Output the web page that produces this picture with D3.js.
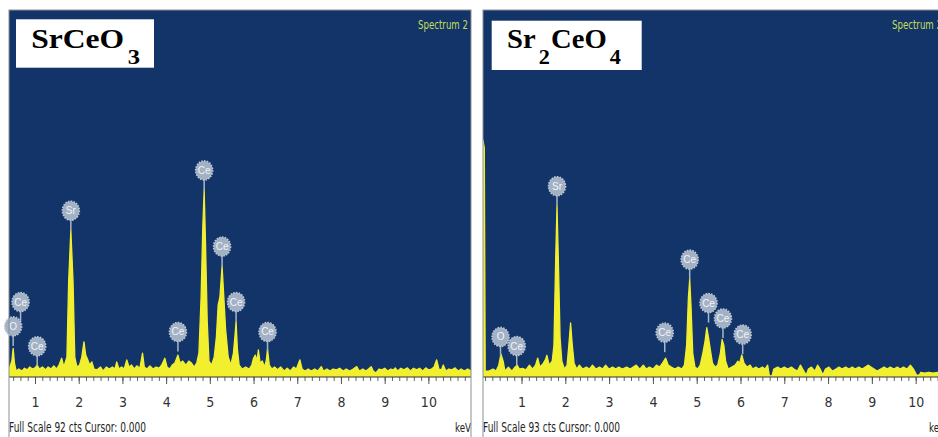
<!DOCTYPE html>
<html>
<head>
<meta charset="utf-8">
<script src="https://cdnjs.cloudflare.com/ajax/libs/d3/7.8.5/d3.min.js"></script>
<style>
  body { margin: 0; background: #fff; }
  svg { display: block; }
</style>
</head>
<body>
<div id="chart"></div>
<script>

// energy axis tick labels (keV)
var majorTicks = [1, 2, 3, 4, 5, 6, 7, 8, 9, 10];

// SrCeO3 spectrum, [keV, counts]
var srceo3Spectrum = [
  [0.405, 2], [0.44, 3], [0.47, 4], [0.50, 7.2], [0.53, 3.5], [0.57, 1.5], [0.63, 2], [0.70, 1.5],
  [0.76, 2.2], [0.82, 1.8], [0.88, 2.5], [0.94, 2], [1.00, 2.3], [1.05, 3], [1.10, 2], [1.17, 2.5],
  [1.24, 1.8], [1.30, 2.5], [1.37, 2], [1.43, 2.8], [1.49, 2], [1.55, 3], [1.61, 4.7], [1.66, 2.5],
  [1.73, 5], [1.77, 24], [1.82, 36.8], [1.87, 24], [1.91, 5], [1.96, 2.5], [2.02, 3], [2.07, 5],
  [2.12, 8.8], [2.16, 5.5], [2.20, 4.5], [2.25, 3], [2.30, 3.8], [2.35, 2], [2.42, 1.8], [2.50, 2.5],
  [2.56, 1.5], [2.63, 2.5], [2.70, 2], [2.77, 2.5], [2.83, 2], [2.87, 3.8], [2.92, 2], [2.98, 2.5],
  [3.04, 2], [3.10, 4.3], [3.15, 2.5], [3.21, 3], [3.27, 2], [3.33, 2.8], [3.40, 2.2], [3.46, 6],
  [3.50, 2.5], [3.56, 2], [3.63, 2.8], [3.70, 2], [3.77, 2.5], [3.84, 2.2], [3.90, 3], [3.97, 4.7],
  [4.02, 2.5], [4.08, 2], [4.14, 3], [4.20, 3.5], [4.27, 5.5], [4.32, 3.5], [4.38, 4], [4.45, 3],
  [4.52, 4], [4.58, 3.5], [4.64, 2.5], [4.70, 3.5], [4.75, 6], [4.80, 20], [4.84, 38], [4.87, 46.9],
  [4.90, 34], [4.94, 14], [4.98, 4], [5.04, 3], [5.10, 5], [5.15, 10], [5.19, 18], [5.23, 20],
  [5.28, 27.8], [5.32, 20], [5.36, 12], [5.42, 5], [5.48, 3], [5.54, 6], [5.58, 11], [5.60, 13.9],
  [5.63, 7], [5.67, 3], [5.74, 2], [5.82, 2.5], [5.90, 2], [5.96, 3], [6.00, 4.7], [6.04, 5.5],
  [6.08, 4], [6.11, 6.8], [6.15, 3.5], [6.20, 4], [6.25, 2.5], [6.29, 4], [6.32, 7], [6.36, 3],
  [6.42, 2], [6.48, 2.5], [6.55, 1.8], [6.62, 2.5], [6.70, 1.5], [6.77, 2.2], [6.84, 1.5], [6.92, 2.5],
  [6.98, 2], [7.06, 4.3], [7.11, 2], [7.18, 1.5], [7.25, 2], [7.32, 1.5], [7.40, 2], [7.47, 1.5],
  [7.55, 2.6], [7.60, 1.5], [7.68, 2], [7.75, 1.5], [7.82, 2], [7.90, 1.8], [7.97, 2.2], [8.05, 1.5],
  [8.12, 2], [8.20, 1.5], [8.28, 2], [8.36, 2.6], [8.42, 1.5], [8.50, 2], [8.57, 1.5], [8.63, 2],
  [8.69, 2.6], [8.74, 1.5], [8.80, 1], [8.87, 2], [8.94, 1.8], [9.00, 2.2], [9.07, 1.5], [9.14, 2],
  [9.20, 1.8], [9.24, 2.3], [9.30, 1.5], [9.37, 2.2], [9.44, 1.8], [9.52, 2.3], [9.59, 1.5], [9.66, 2.2],
  [9.73, 1.8], [9.80, 2.2], [9.87, 1.5], [9.94, 2.3], [10.00, 1.8], [10.07, 2], [10.13, 2.5], [10.19, 4.3],
  [10.24, 2], [10.30, 1.8], [10.34, 3], [10.40, 1.5], [10.47, 2], [10.54, 1.8], [10.61, 2.3], [10.68, 1.5],
  [10.75, 2], [10.82, 1.5], [10.90, 2], [10.975, 1.5]
];

// peak markers: [element, keV, counts at marker tip]
var srceo3Labels = [
  ["Ce", 0.67, 13.9], ["O", 0.50, 7.8], ["Ce", 1.05, 2.8], ["Sr", 1.82, 36.8], ["Ce", 4.27, 6.4],
  ["Ce", 4.87, 46.9], ["Ce", 5.28, 27.8], ["Ce", 5.60, 13.9], ["Ce", 6.32, 6.4]
];

// Sr2CeO4 spectrum, [keV, counts]
var sr2ceo4Spectrum = [
  [0.12, 60], [0.15, 58], [0.17, 1.5], [0.25, 1.5], [0.35, 2], [0.42, 1.5], [0.48, 3], [0.53, 5.8],
  [0.58, 4], [0.62, 1.5], [0.70, 2.5], [0.78, 1.5], [0.85, 2.5], [0.90, 3], [0.95, 2], [1.02, 2.2],
  [1.10, 1.8], [1.18, 3], [1.25, 2], [1.32, 3], [1.37, 4.8], [1.42, 2.5], [1.50, 3.5], [1.55, 4.5],
  [1.58, 5.5], [1.63, 3], [1.70, 4], [1.74, 8], [1.78, 30], [1.81, 43.4], [1.84, 30], [1.88, 10],
  [1.92, 4], [1.98, 2], [2.04, 3], [2.08, 8], [2.12, 13.7], [2.16, 8], [2.20, 3.5], [2.26, 2],
  [2.32, 3], [2.40, 2], [2.48, 2.5], [2.55, 2], [2.62, 3], [2.70, 2], [2.78, 2.5], [2.85, 2],
  [2.92, 3], [3.00, 2], [3.08, 2.5], [3.15, 2], [3.22, 2.5], [3.30, 2], [3.40, 2.5], [3.48, 2],
  [3.55, 2.5], [3.62, 3], [3.70, 2], [3.78, 3], [3.85, 2], [3.92, 2.5], [4.00, 2], [4.08, 3],
  [4.15, 2.5], [4.22, 3.5], [4.29, 4.8], [4.35, 3], [4.42, 2.5], [4.50, 2], [4.58, 2.5], [4.66, 2],
  [4.72, 3], [4.77, 8], [4.81, 20], [4.84, 24.8], [4.87, 18], [4.91, 6], [4.96, 2.5], [5.02, 2],
  [5.08, 3], [5.14, 6], [5.19, 9], [5.23, 12.5], [5.27, 10], [5.31, 7], [5.36, 3.5], [5.42, 2.5],
  [5.48, 3], [5.54, 6], [5.58, 9.5], [5.62, 8], [5.66, 4], [5.72, 2], [5.80, 2.5], [5.88, 3],
  [5.94, 4], [5.98, 3.5], [6.03, 5.6], [6.08, 3.5], [6.15, 2.5], [6.22, 3], [6.28, 2], [6.35, 2.5],
  [6.42, 2], [6.50, 2.5], [6.56, 2], [6.62, 3], [6.66, 0.3], [6.72, 0.3], [6.76, 2], [6.85, 2.5],
  [6.92, 2], [7.00, 2.5], [7.08, 2], [7.16, 2.5], [7.22, 2], [7.30, 1.5], [7.37, 3], [7.42, 2],
  [7.50, 0.5], [7.55, 2], [7.62, 2.5], [7.70, 1.5], [7.76, 3], [7.82, 2], [7.88, 0.5], [7.94, 2],
  [8.02, 2.5], [8.10, 1.5], [8.18, 2], [8.25, 2.5], [8.32, 2], [8.40, 2.5], [8.48, 2], [8.55, 2.5],
  [8.62, 2], [8.70, 2.5], [8.78, 2], [8.85, 2.5], [8.92, 3], [8.98, 2.5], [9.05, 2], [9.12, 1.5],
  [9.20, 2], [9.28, 2.5], [9.35, 2], [9.42, 2.5], [9.50, 2], [9.58, 2.5], [9.65, 2], [9.72, 2.5],
  [9.80, 2], [9.88, 3], [9.95, 2], [10.02, 0.5], [10.08, 0.5], [10.12, 1.2], [10.20, 1], [10.30, 1.2],
  [10.40, 1], [10.50, 1.2], [10.60, 1], [10.67, 1.2]
];

var sr2ceo4Labels = [
  ["O", 0.52, 5.2], ["Ce", 0.89, 2.9], ["Sr", 1.81, 43.4], ["Ce", 4.27, 6.3], ["Ce", 4.84, 24.8],
  ["Ce", 5.27, 13.8], ["Ce", 5.60, 9.9], ["Ce", 6.05, 5.8]
];

var fullScale = [92, 93];

// layout
var W = 938, H = 437;
var panelWidth = 462, plotTop = 10, plotBottom = 377;
var navy = "#123468", yellow = "#f2ef2f";
var narrow = "'Liberation Sans Narrow', 'Arial Narrow', 'DejaVu Sans Condensed', sans-serif";
var serif = "'Liberation Serif', 'Times New Roman', serif";

var svg = d3.select("#chart")
  .append("svg")
    .attr("width", W)
    .attr("height", H);

svg.append("rect")
  .attr("width", W)
  .attr("height", H)
  .attr("fill", "#fff");

// formula parts: text, subscript or not
var panels = [
  {
    left: 9, domain: [0.405, 10.975], scale: fullScale[0],
    spectrum: srceo3Spectrum, labels: srceo3Labels,
    box: [7, 19.3, 138, 48.4], titleX: 21, titleScale: 1.17,
    formula: [["SrCeO", false], ["3", true]]
  },
  {
    left: 483, domain: [0.12, 10.67], scale: fullScale[1],
    spectrum: sr2ceo4Spectrum, labels: sr2ceo4Labels,
    box: [8.7, 20.7, 150, 49.3], titleX: 23, titleScale: 1.06,
    formula: [["Sr", false], ["2", true], ["CeO", false], ["4", true]]
  }
];

panels.forEach(function(p, i) {
  var g = svg.append("g")
    .attr("transform", "translate(" + p.left + ",0)");

  var x = d3.scaleLinear()
    .domain(p.domain)
    .range([0, panelWidth]);

  var y = d3.scaleLinear()
    .domain([0, p.scale])
    .range([plotBottom, plotTop]);

  // plot background
  g.append("rect")
    .attr("x", 0)
    .attr("y", plotTop)
    .attr("width", panelWidth)
    .attr("height", plotBottom - plotTop)
    .attr("fill", navy);

  g.append("clipPath")
    .attr("id", "clip" + i)
    .append("rect")
      .attr("x", 0)
      .attr("y", plotTop)
      .attr("width", panelWidth)
      .attr("height", plotBottom - plotTop);

  // spectrum
  g.append("path")
    .datum(p.spectrum)
    .attr("clip-path", "url(#clip" + i + ")")
    .attr("fill", yellow)
    .attr("stroke", yellow)
    .attr("stroke-width", 1.3)
    .attr("stroke-linejoin", "round")
    .attr("d", d3.area()
      .x(function(d) { return x(d[0]); })
      .y0(y(0))
      .y1(function(d) { return y(d[1]); })
    );

  // axis: minor ticks then major ticks with labels
  var minor = d3.range(0, 67).map(function(k) { return k / 6; })
    .filter(function(v) { return v >= p.domain[0] && v <= p.domain[1]; });

  var minorAxis = g.append("g")
    .attr("transform", "translate(0," + plotBottom + ")")
    .call(d3.axisBottom(x).tickValues(minor).tickSize(4).tickFormat(""));
  minorAxis.select(".domain").remove();
  minorAxis.selectAll("line").attr("stroke", "#666");

  var majorAxis = g.append("g")
    .attr("transform", "translate(0," + plotBottom + ")")
    .call(d3.axisBottom(x).tickValues(majorTicks).tickSize(7).tickPadding(13).tickFormat(d3.format("d")));
  majorAxis.select(".domain").remove();
  majorAxis.selectAll("line").attr("stroke", "#555");
  majorAxis.selectAll("text")
    .attr("fill", "#333")
    .style("font-family", narrow)
    .style("font-size", "14px");

  g.append("line")
    .attr("x1", 0).attr("x2", panelWidth)
    .attr("y1", plotBottom).attr("y2", plotBottom)
    .attr("stroke", "#333")
    .attr("stroke-width", 1.2);

  // peak markers
  var mark = g.selectAll(".mark")
    .data(p.labels)
    .enter()
    .append("g")
      .attr("class", "mark")
      .attr("transform", function(d) { return "translate(" + x(d[1]) + "," + y(d[2]) + ")"; });

  mark.append("line")
    .attr("x1", 0).attr("x2", 0)
    .attr("y1", 0).attr("y2", -12)
    .attr("stroke", "#a9b6c8")
    .attr("stroke-width", 1.5);

  mark.append("ellipse")
    .attr("cx", 0)
    .attr("cy", -19.5)
    .attr("rx", 8.5)
    .attr("ry", 9.5)
    .attr("fill", "#a3b1c5")
    .attr("stroke", "#bcc7d6")
    .attr("stroke-width", 1.6)
    .attr("stroke-dasharray", "1.6,1.2");

  mark.append("text")
    .attr("x", 0)
    .attr("y", -16)
    .attr("text-anchor", "middle")
    .attr("fill", "#f1f4f8")
    .style("font-family", "'Liberation Sans', Arial, sans-serif")
    .style("font-size", "10px")
    .text(function(d) { return d[0]; });

  // formula box
  g.append("rect")
    .attr("x", p.box[0])
    .attr("y", p.box[1])
    .attr("width", p.box[2])
    .attr("height", p.box[3])
    .attr("fill", "#fff");

  var title = g.append("text")
    .attr("transform", "translate(" + p.titleX + ",48) scale(" + p.titleScale + ",1)")
    .attr("fill", "#000")
    .style("font-family", serif)
    .style("font-weight", "bold");

  var wasSub = false;
  p.formula.forEach(function(part) {
    var shift = part[1] === wasSub ? 0 : (part[1] ? 16 : -16);
    title.append("tspan")
      .attr("dy", shift)
      .attr("dx", part[1] ? 3 : 1)
      .style("font-size", part[1] ? "21px" : "27px")
      .text(part[0]);
    wasSub = part[1];
  });

  g.append("text")
    .attr("x", 409)
    .attr("y", 29)
    .attr("textLength", 50)
    .attr("lengthAdjust", "spacingAndGlyphs")
    .attr("fill", "#c3de5a")
    .style("font-family", narrow)
    .style("font-size", "12px")
    .text("Spectrum 2");

  g.append("text")
    .attr("x", 0)
    .attr("y", 432)
    .attr("textLength", 137)
    .attr("lengthAdjust", "spacingAndGlyphs")
    .attr("fill", "#222")
    .style("font-family", narrow)
    .style("font-size", "14px")
    .text("Full Scale " + p.scale + " cts Cursor: 0.000");

  g.append("text")
    .attr("x", 446)
    .attr("y", 432)
    .attr("textLength", 16)
    .attr("lengthAdjust", "spacingAndGlyphs")
    .attr("fill", "#222")
    .style("font-family", narrow)
    .style("font-size", "13px")
    .text("keV");

  // panel frame
  g.append("rect")
    .attr("x", 0)
    .attr("y", plotTop)
    .attr("width", panelWidth)
    .attr("height", H - plotTop + 5)
    .attr("fill", "none")
    .attr("stroke", "#8a8f98")
    .attr("stroke-width", 1);
});

</script>
</body>
</html>
